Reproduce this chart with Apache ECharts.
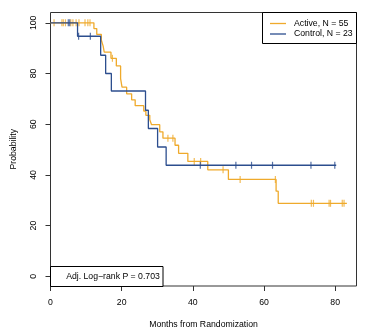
<!DOCTYPE html>
<html>
<head>
<meta charset="utf-8">
<script src="https://cdn.jsdelivr.net/npm/echarts@6/dist/echarts.min.js"></script>
<style>
  html, body { margin: 0; padding: 0; background: #ffffff; }
  #chart { width: 368px; height: 334px; }
</style>
</head>
<body>
<div id="chart"></div>
<script>
// Kaplan-Meier estimates (percent surviving) by arm, months from randomization
const activeEventTimes = [12.2, 13.0, 14.3, 14.8, 15.1, 17.0, 18.5, 19.7, 20.1, 21.4, 22.8, 23.8, 26.2, 26.8, 27.9, 28.4, 30.7, 31.6, 35.0, 36.0, 38.6, 44.2, 50.0, 63.4, 64.0];
const activeSurvival   = [97.7, 95.4, 93.1, 90.8, 88.4, 86.0, 83.0, 78.0, 74.6, 72.0, 69.6, 67.3, 65.2, 63.5, 61.8, 59.8, 57.0, 54.5, 51.7, 48.5, 45.3, 42.0, 38.2, 33.6, 28.8];
const activeCensorTimes = [1.0, 3.2, 3.6, 4.2, 5.7, 6.3, 7.2, 8.0, 9.7, 10.5, 11.1, 17.4, 33.0, 34.4, 40.4, 42.2, 48.5, 53.3, 63.2, 73.3, 73.9, 78.3, 78.7, 82.0, 82.5];
const activeLastTime = 83.3;

const controlEventTimes = [7.6, 14.1, 15.5, 17.1, 26.7, 27.5, 30.1, 32.5];
const controlSurvival   = [94.7, 87.2, 80.0, 73.1, 65.5, 58.3, 51.0, 43.8];
const controlCensorTimes = [5.0, 5.4, 7.9, 11.2, 42.1, 52.1, 56.5, 62.4, 73.2, 79.9];
const controlLastTime = 80.3;

const armNames = ['Active, N = 55', 'Control, N = 23'];
const pValueText = 'Adj. Log\u2212rank P = 0.703';

const xTicks = [0, 20, 40, 60, 80];
const yTicks = [0, 20, 40, 60, 80, 100];

const ORANGE = '#EFAA2C';
const BLUE = '#2C4E8E';
const FONT = '"Liberation Sans", Arial, sans-serif';
const FS = 8.7;

// Build a right-continuous step path from event times
function stepPath(times, surv, lastTime) {
  const pts = [[0, 100]];
  let prev = 100;
  times.forEach((t, i) => {
    pts.push([t, prev]);
    pts.push([t, surv[i]]);
    prev = surv[i];
  });
  pts.push([lastTime, prev]);
  return pts;
}
function survivalAt(times, surv, t) {
  let s = 100;
  for (let i = 0; i < times.length; i++) if (times[i] <= t) s = surv[i];
  return s;
}
function censorPoints(censorTimes, times, surv) {
  return censorTimes.map(t => [t, survivalAt(times, surv, t)]);
}

const chart = echarts.init(document.getElementById('chart'), null, { renderer: 'canvas' });

const gridLeft = 50.5, gridTop = 12.5, gridW = 306, gridH = 274;

chart.setOption({
  animation: false,
  backgroundColor: '#ffffff',
  grid: {
    left: gridLeft, top: gridTop, width: gridW, height: gridH,
    show: true, borderColor: '#333333', borderWidth: 1, backgroundColor: 'transparent'
  },
  xAxis: {
    type: 'value', min: 0, max: 86,
    axisLine: { show: false, onZero: false },
    splitLine: { show: false },
    axisTick: { show: true, customValues: xTicks, length: 5, inside: false, lineStyle: { color: '#333' } },
    axisLabel: { customValues: xTicks, margin: 12, color: '#000', fontFamily: FONT, fontSize: FS },
    name: 'Months from Randomization',
    nameLocation: 'middle', nameGap: 34,
    nameTextStyle: { color: '#000', fontFamily: FONT, fontSize: FS }
  },
  yAxis: {
    type: 'value', min: -3.82, max: 104.06,
    axisLine: { show: false, onZero: false },
    splitLine: { show: false },
    axisTick: { show: true, customValues: yTicks, length: 5, inside: false, lineStyle: { color: '#333' } },
    axisLabel: { customValues: yTicks, rotate: 90, margin: 12, color: '#000', fontFamily: FONT, fontSize: FS },
    name: 'Probability',
    nameLocation: 'middle', nameGap: 32, nameRotate: 90,
    nameTextStyle: { color: '#000', fontFamily: FONT, fontSize: FS }
  },
  series: [
    {
      name: armNames[0], type: 'line', data: stepPath(activeEventTimes, activeSurvival, activeLastTime),
      showSymbol: false, lineStyle: { color: ORANGE, width: 1.3 }, z: 2
    },
    {
      name: 'active-censored', type: 'scatter', data: censorPoints(activeCensorTimes, activeEventTimes, activeSurvival),
      symbol: 'rect', symbolSize: [1.2, 7], itemStyle: { color: ORANGE }, z: 2
    },
    {
      name: armNames[1], type: 'line', data: stepPath(controlEventTimes, controlSurvival, controlLastTime),
      showSymbol: false, lineStyle: { color: BLUE, width: 1.3 }, z: 3
    },
    {
      name: 'control-censored', type: 'scatter', data: censorPoints(controlCensorTimes, controlEventTimes, controlSurvival),
      symbol: 'rect', symbolSize: [1.2, 7], itemStyle: { color: BLUE }, z: 3
    }
  ],
  graphic: [
    // legend box, top right
    { type: 'rect', z: 10, shape: { x: 262.5, y: 12.5, width: 94, height: 31 },
      style: { fill: '#fff', stroke: '#000', lineWidth: 1 } },
    { type: 'line', z: 11, shape: { x1: 270, y1: 23.5, x2: 286, y2: 23.5 }, style: { stroke: ORANGE, lineWidth: 1.3 } },
    { type: 'line', z: 11, shape: { x1: 270, y1: 34, x2: 286, y2: 34 }, style: { stroke: BLUE, lineWidth: 1.3 } },
    { type: 'text', z: 11, x: 294, y: 23.5, style: { text: armNames[0], fill: '#000', font: FS + 'px ' + FONT, verticalAlign: 'middle' } },
    { type: 'text', z: 11, x: 294, y: 34, style: { text: armNames[1], fill: '#000', font: FS + 'px ' + FONT, verticalAlign: 'middle' } },
    // p-value box, bottom left
    { type: 'rect', z: 10, shape: { x: 50.5, y: 266.5, width: 112.5, height: 20 },
      style: { fill: '#fff', stroke: '#000', lineWidth: 1 } },
    { type: 'text', z: 11, x: 113, y: 277, style: { text: pValueText, fill: '#000', font: FS + 'px ' + FONT, align: 'center', verticalAlign: 'middle' } }
  ]
});
</script>
</body>
</html>
